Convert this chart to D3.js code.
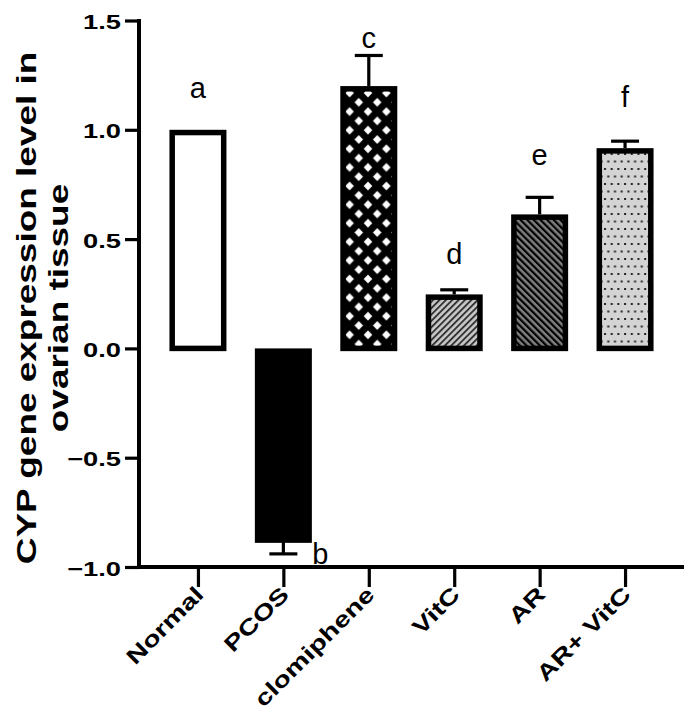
<!DOCTYPE html>
<html><head><meta charset="utf-8">
<script src="https://cdn.jsdelivr.net/npm/d3@7"></script>
<style>body{margin:0;background:#fff} svg{display:block}</style>
</head><body><svg id="c" width="685" height="724"></svg>
<script>
const categories = ["Normal","PCOS","clomiphene","VitC","AR","AR+ VitC"];
const means = [1.0, -0.877, 1.20, 0.247, 0.613, 0.916];
const errors = [0, 0.063, 0.14, 0.021, 0.078, 0.032];
const letters = ["a","b","c","d","e","f"];
const letterValues = [1.145, -0.987, 1.374, 0.384, 0.838, 1.104];
const yTicks = [-1.0,-0.5,0.0,0.5,1.0,1.5];
const yTitle = ["CYP gene expression level in","ovarian tissue"];
const fills = ["white","black","url(#pCross)","url(#pFwd)","url(#pBack)","url(#pDots)"];

const svg = d3.select("#c");
const font = "'Liberation Sans', Arial, sans-serif";
const x0 = 139, x1 = 684, yTop = 20.5, yBot = 567;
const y = d3.scaleLinear().domain([-1,1.5]).range([yBot,yTop]);
const x = d3.scalePoint().domain(categories).range([x0,x1]).padding(0.69);

// patterns
const defs = svg.append("defs");
const pc = defs.append("pattern").attr("id","pCross").attr("patternUnits","userSpaceOnUse")
  .attr("width",18.4).attr("height",18.6).attr("x",0).attr("y",0);
pc.append("rect").attr("width",18.4).attr("height",18.6).attr("fill","black");
const dia = (cx,cy,r)=>`M${cx-r},${cy}L${cx},${cy-r}L${cx+r},${cy}L${cx},${cy+r}Z`;
[[9.2,9.3],[0,0],[18.4,0],[0,18.6],[18.4,18.6]].forEach(([a,b])=>
  pc.append("path").attr("d",dia(a,b,4.3)).attr("fill","white"));

const pf = defs.append("pattern").attr("id","pFwd").attr("patternUnits","userSpaceOnUse")
  .attr("width",4.5).attr("height",10).attr("patternTransform","rotate(45)");
pf.append("rect").attr("width",4.5).attr("height",10).attr("fill","#c9c9c9");
pf.append("rect").attr("width",1.9).attr("height",10).attr("fill","#333");

const pb = defs.append("pattern").attr("id","pBack").attr("patternUnits","userSpaceOnUse")
  .attr("width",4.7).attr("height",10).attr("patternTransform","rotate(-45)");
pb.append("rect").attr("width",4.7).attr("height",10).attr("fill","#7f7f7f");
pb.append("rect").attr("width",2.2).attr("height",10).attr("fill","#000");

const pd = defs.append("pattern").attr("id","pDots").attr("patternUnits","userSpaceOnUse")
  .attr("width",6.7).attr("height",15);
pd.append("rect").attr("width",6.7).attr("height",15).attr("fill","#d4d4d4");
pd.append("rect").attr("x",1).attr("y",3).attr("width",2).attr("height",2).attr("fill","#222");
pd.append("rect").attr("x",4.3).attr("y",10.5).attr("width",2).attr("height",2).attr("fill","#222");

// bars
const bw = 57, sw = 5.5;
const data = categories.map((c,i)=>({c, v:means[i], e:errors[i], f:fills[i], l:letters[i], lv:letterValues[i]}));
svg.append("g").selectAll("rect").data(data).join("rect")
  .attr("x",d=>x(d.c)-bw/2+sw/2)
  .attr("y",d=>Math.min(y(0),y(d.v))+sw/2)
  .attr("width",bw-sw)
  .attr("height",d=>Math.abs(y(d.v)-y(0))-sw/2)
  .attr("fill",d=>d.f).attr("stroke","black").attr("stroke-width",sw);

// error bars
const eb = svg.append("g").attr("stroke","black").attr("stroke-width",3.2);
data.filter(d=>d.e>0).forEach(d=>{
  const end = d.v + Math.sign(d.v)*d.e;
  eb.append("line").attr("x1",x(d.c)).attr("x2",x(d.c)).attr("y1",y(d.v)).attr("y2",y(end));
  eb.append("line").attr("x1",x(d.c)-14).attr("x2",x(d.c)+14).attr("y1",y(end)).attr("y2",y(end));
});

// letters
svg.append("g").selectAll("text").data(data).join("text")
  .attr("x",d=>x(d.c)+(d.v<0?37:0)).attr("y",d=>y(d.lv))
  .attr("text-anchor","middle").attr("font-family",font).attr("font-size",29)
  .attr("fill","black").text(d=>d.l);

// y axis
const sx = 1.3;
const ya = svg.append("g").attr("transform",`translate(${x0},0)`)
  .call(d3.axisLeft(y).tickValues(yTicks).tickSize(14).tickSizeOuter(0).tickFormat(d3.format(".1f")));
ya.select(".domain").attr("stroke-width",4).attr("d",`M0,${yTop-1.5}V${yBot+2}`);
ya.selectAll(".tick line").attr("stroke-width",3.2);
ya.selectAll(".tick text").attr("x",-18/sx).attr("dy",null).attr("y",8)
  .attr("transform",`scale(${sx},1)`).attr("font-family",font).attr("font-weight","bold")
  .attr("font-size",21).attr("fill","black");

// x axis
const xa = svg.append("g").attr("transform",`translate(0,${yBot})`)
  .call(d3.axisBottom(x).tickSize(20).tickSizeOuter(0).tickFormat(""));
xa.select(".domain").attr("stroke-width",4).attr("d",`M${x0-2},0H${x1}`);
xa.selectAll(".tick line").attr("stroke-width",3.2);
svg.append("g").selectAll("text").data(categories).join("text")
  .attr("transform",d=>`translate(${x(d)+7},596) rotate(-45) scale(1.3,1)`)
  .attr("text-anchor","end").attr("font-family",font).attr("font-weight","bold")
  .attr("font-size",22).attr("fill","black").text(d=>d);

// y title
const yc = 308;
svg.append("g").selectAll("text").data(yTitle).join("text")
  .attr("transform",(d,i)=>`translate(${36+i*32},${yc}) rotate(-90) scale(1.32,1)`)
  .attr("text-anchor","middle").attr("font-family",font).attr("font-weight","bold")
  .attr("font-size",28).attr("fill","black").text(d=>d);
</script></body></html>
